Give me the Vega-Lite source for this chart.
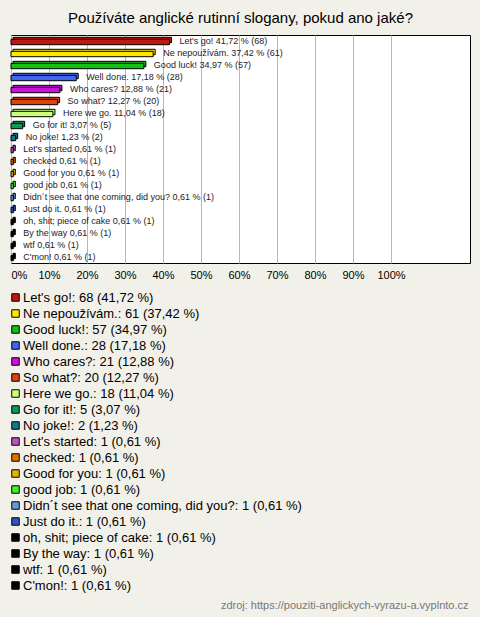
{
  "$schema": "https://vega.github.io/schema/vega-lite/v6.json",
  "width": 459,
  "height": 228,
  "autosize": "none",
  "padding": {"left": 11, "top": 35, "right": 10, "bottom": 354},
  "background": "#f2f1e9",
  "title": {
    "text": "Používáte anglické rutinní slogany, pokud ano jaké?",
    "font": "Liberation Sans",
    "fontSize": 15,
    "fontWeight": "normal",
    "color": "#000000",
    "anchor": "middle",
    "offset": 9
  },
  "config": {
    "view": {"fill": "#ffffff", "stroke": "#000000", "strokeWidth": 1},
    "legend": {
      "orient": "none",
      "legendX": -2,
      "legendY": 256,
      "title": null,
      "direction": "vertical",
      "columns": 1,
      "padding": 0,
      "symbolType": "square",
      "symbolSize": 56,
      "symbolStrokeColor": "#000000",
      "symbolStrokeWidth": 1,
      "symbolOpacity": 1,
      "labelFont": "Liberation Sans",
      "labelFontSize": 13,
      "labelColor": "#000000",
      "labelLimit": 0,
      "labelOffset": 1,
      "rowPadding": 2
    }
  },
  "data": {
    "values": [
      {"answer": "Let's go!", "count": 68, "pct": 41.72, "barLabel": "Let's go! 41,72 % (68)", "legendLabel": "Let's go!: 68 (41,72 %)"},
      {"answer": "Ne nepoužívám.", "count": 61, "pct": 37.42, "barLabel": "Ne nepoužívám. 37,42 % (61)", "legendLabel": "Ne nepoužívám.: 61 (37,42 %)"},
      {"answer": "Good luck!", "count": 57, "pct": 34.97, "barLabel": "Good luck! 34,97 % (57)", "legendLabel": "Good luck!: 57 (34,97 %)"},
      {"answer": "Well done.", "count": 28, "pct": 17.18, "barLabel": "Well done. 17,18 % (28)", "legendLabel": "Well done.: 28 (17,18 %)"},
      {"answer": "Who cares?", "count": 21, "pct": 12.88, "barLabel": "Who cares? 12,88 % (21)", "legendLabel": "Who cares?: 21 (12,88 %)"},
      {"answer": "So what?", "count": 20, "pct": 12.27, "barLabel": "So what? 12,27 % (20)", "legendLabel": "So what?: 20 (12,27 %)"},
      {"answer": "Here we go.", "count": 18, "pct": 11.04, "barLabel": "Here we go. 11,04 % (18)", "legendLabel": "Here we go.: 18 (11,04 %)"},
      {"answer": "Go for it!", "count": 5, "pct": 3.07, "barLabel": "Go for it! 3,07 % (5)", "legendLabel": "Go for it!: 5 (3,07 %)"},
      {"answer": "No joke!", "count": 2, "pct": 1.23, "barLabel": "No joke! 1,23 % (2)", "legendLabel": "No joke!: 2 (1,23 %)"},
      {"answer": "Let's started", "count": 1, "pct": 0.61, "barLabel": "Let's started 0,61 % (1)", "legendLabel": "Let's started: 1 (0,61 %)"},
      {"answer": "checked", "count": 1, "pct": 0.61, "barLabel": "checked 0,61 % (1)", "legendLabel": "checked: 1 (0,61 %)"},
      {"answer": "Good for you", "count": 1, "pct": 0.61, "barLabel": "Good for you 0,61 % (1)", "legendLabel": "Good for you: 1 (0,61 %)"},
      {"answer": "good job", "count": 1, "pct": 0.61, "barLabel": "good job 0,61 % (1)", "legendLabel": "good job: 1 (0,61 %)"},
      {"answer": "Didn´t see that one coming, did you?", "count": 1, "pct": 0.61, "barLabel": "Didn´t see that one coming, did you? 0,61 % (1)", "legendLabel": "Didn´t see that one coming, did you?: 1 (0,61 %)"},
      {"answer": "Just do it.", "count": 1, "pct": 0.61, "barLabel": "Just do it. 0,61 % (1)", "legendLabel": "Just do it.: 1 (0,61 %)"},
      {"answer": "oh, shit; piece of cake", "count": 1, "pct": 0.61, "barLabel": "oh, shit; piece of cake 0,61 % (1)", "legendLabel": "oh, shit; piece of cake: 1 (0,61 %)"},
      {"answer": "By the way", "count": 1, "pct": 0.61, "barLabel": "By the way 0,61 % (1)", "legendLabel": "By the way: 1 (0,61 %)"},
      {"answer": "wtf", "count": 1, "pct": 0.61, "barLabel": "wtf 0,61 % (1)", "legendLabel": "wtf: 1 (0,61 %)"},
      {"answer": "C'mon!", "count": 1, "pct": 0.61, "barLabel": "C'mon! 0,61 % (1)", "legendLabel": "C'mon!: 1 (0,61 %)"}
    ]
  },
  "encoding": {
    "y": {
      "field": "answer",
      "type": "nominal",
      "sort": null,
      "axis": null,
      "scale": {"paddingInner": 0.55, "paddingOuter": 0.275}
    },
    "x": {
      "field": "pct",
      "type": "quantitative",
      "scale": {"domain": [0, 120.8], "nice": false, "zero": true},
      "axis": {
        "values": [0, 10, 20, 30, 40, 50, 60, 70, 80, 90, 100],
        "labelExpr": "datum.value + '%'",
        "labelFont": "Liberation Sans",
        "labelFontSize": 11,
        "labelColor": "#000000",
        "labelPadding": 6,
        "labelFlush": true,
        "domain": false,
        "ticks": false,
        "grid": true,
        "gridColor": "#b8b8b8",
        "gridWidth": 1,
        "title": "zdroj: https://pouziti-anglickych-vyrazu-a.vyplnto.cz",
        "titleFont": "Liberation Sans",
        "titleFontSize": 11,
        "titleFontWeight": "normal",
        "titleColor": "#777777",
        "titleAnchor": "end",
        "titleAlign": "right",
        "titleBaseline": "middle",
        "titleX": 457,
        "titleY": 342
      }
    },
    "color": {
      "field": "legendLabel",
      "type": "nominal",
      "sort": null,
      "scale": {
        "domain": ["Let's go!: 68 (41,72 %)", "Ne nepoužívám.: 61 (37,42 %)", "Good luck!: 57 (34,97 %)", "Well done.: 28 (17,18 %)", "Who cares?: 21 (12,88 %)", "So what?: 20 (12,27 %)", "Here we go.: 18 (11,04 %)", "Go for it!: 5 (3,07 %)", "No joke!: 2 (1,23 %)", "Let's started: 1 (0,61 %)", "checked: 1 (0,61 %)", "Good for you: 1 (0,61 %)", "good job: 1 (0,61 %)", "Didn´t see that one coming, did you?: 1 (0,61 %)", "Just do it.: 1 (0,61 %)", "oh, shit; piece of cake: 1 (0,61 %)", "By the way: 1 (0,61 %)", "wtf: 1 (0,61 %)", "C'mon!: 1 (0,61 %)"],
        "range": ["#c0180c", "#ffe600", "#13c013", "#4466ee", "#cc11dd", "#e0420e", "#ccff77", "#11955a", "#12788a", "#bb55bb", "#e07000", "#e6b400", "#44ee33", "#6699dd", "#3355bb", "#000000", "#000000", "#000000", "#000000"]
      }
    }
  },
  "layer": [
    {
      "mark": {"type": "bar", "stroke": "#000000", "strokeWidth": 1, "xOffset": 2, "yOffset": -1, "opacity": 1}
    },
    {
      "mark": {"type": "bar", "stroke": "#000000", "strokeWidth": 1, "yOffset": 1, "opacity": 1}
    },
    {
      "mark": {"type": "text", "align": "left", "baseline": "middle", "dx": 10, "font": "Liberation Sans", "fontSize": 9, "color": "#222222"},
      "encoding": {
        "text": {"field": "barLabel", "type": "nominal"},
        "color": {"value": "#222222"}
      }
    }
  ]
}
